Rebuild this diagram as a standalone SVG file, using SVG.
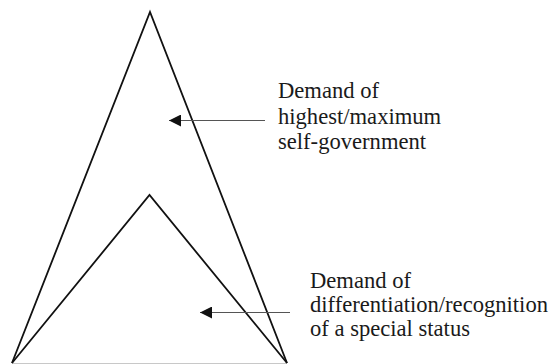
<svg xmlns="http://www.w3.org/2000/svg" width="551" height="364" viewBox="0 0 551 364">
  <style>
    .tri { fill: none; stroke: #111; stroke-width: 1.8; stroke-linejoin: miter; }
    .base { stroke: #c8c8c8; stroke-width: 1; }
    .conn { stroke: #555; stroke-width: 1; fill: none; marker-end: url(#arrow); }
    .lbl { font-family: "Liberation Serif", "Times New Roman", serif; font-size: 22.6px; fill: #1a1a1a; }
  </style>
  <defs>
    <marker id="arrow" viewBox="0 0 10 10" refX="10" refY="5" markerUnits="userSpaceOnUse" markerWidth="14" markerHeight="12" orient="auto">
      <path d="M0,0 L10,5 L0,10 z" fill="#111"/>
    </marker>
  </defs>
  <rect width="551" height="364" fill="#fff"/>
  <g id="base-line">
    <line class="base" x1="12" y1="363.5" x2="287" y2="363.5"/>
  </g>
  <g id="outer-triangle">
    <polyline class="tri" points="12,363 150,12 287,363"/>
  </g>
  <g id="inner-triangle">
    <polyline class="tri" points="12,363 149.5,195 287,363"/>
  </g>
  <g id="connectors">
    <line class="conn" x1="265" y1="120.5" x2="169" y2="120.5"/>
    <line class="conn" x1="290" y1="312.5" x2="200" y2="312.5"/>
  </g>
  <g id="label-self-government">
    <text class="lbl" x="278" y="98">Demand of</text>
    <text class="lbl" x="278" y="123.5">highest/maximum</text>
    <text class="lbl" x="278" y="148.5">self-government</text>
  </g>
  <g id="label-special-status">
    <text class="lbl" x="310" y="288">Demand of</text>
    <text class="lbl" x="310" y="312">differentiation/recognition</text>
    <text class="lbl" x="310" y="336">of a special status</text>
  </g>
</svg>
